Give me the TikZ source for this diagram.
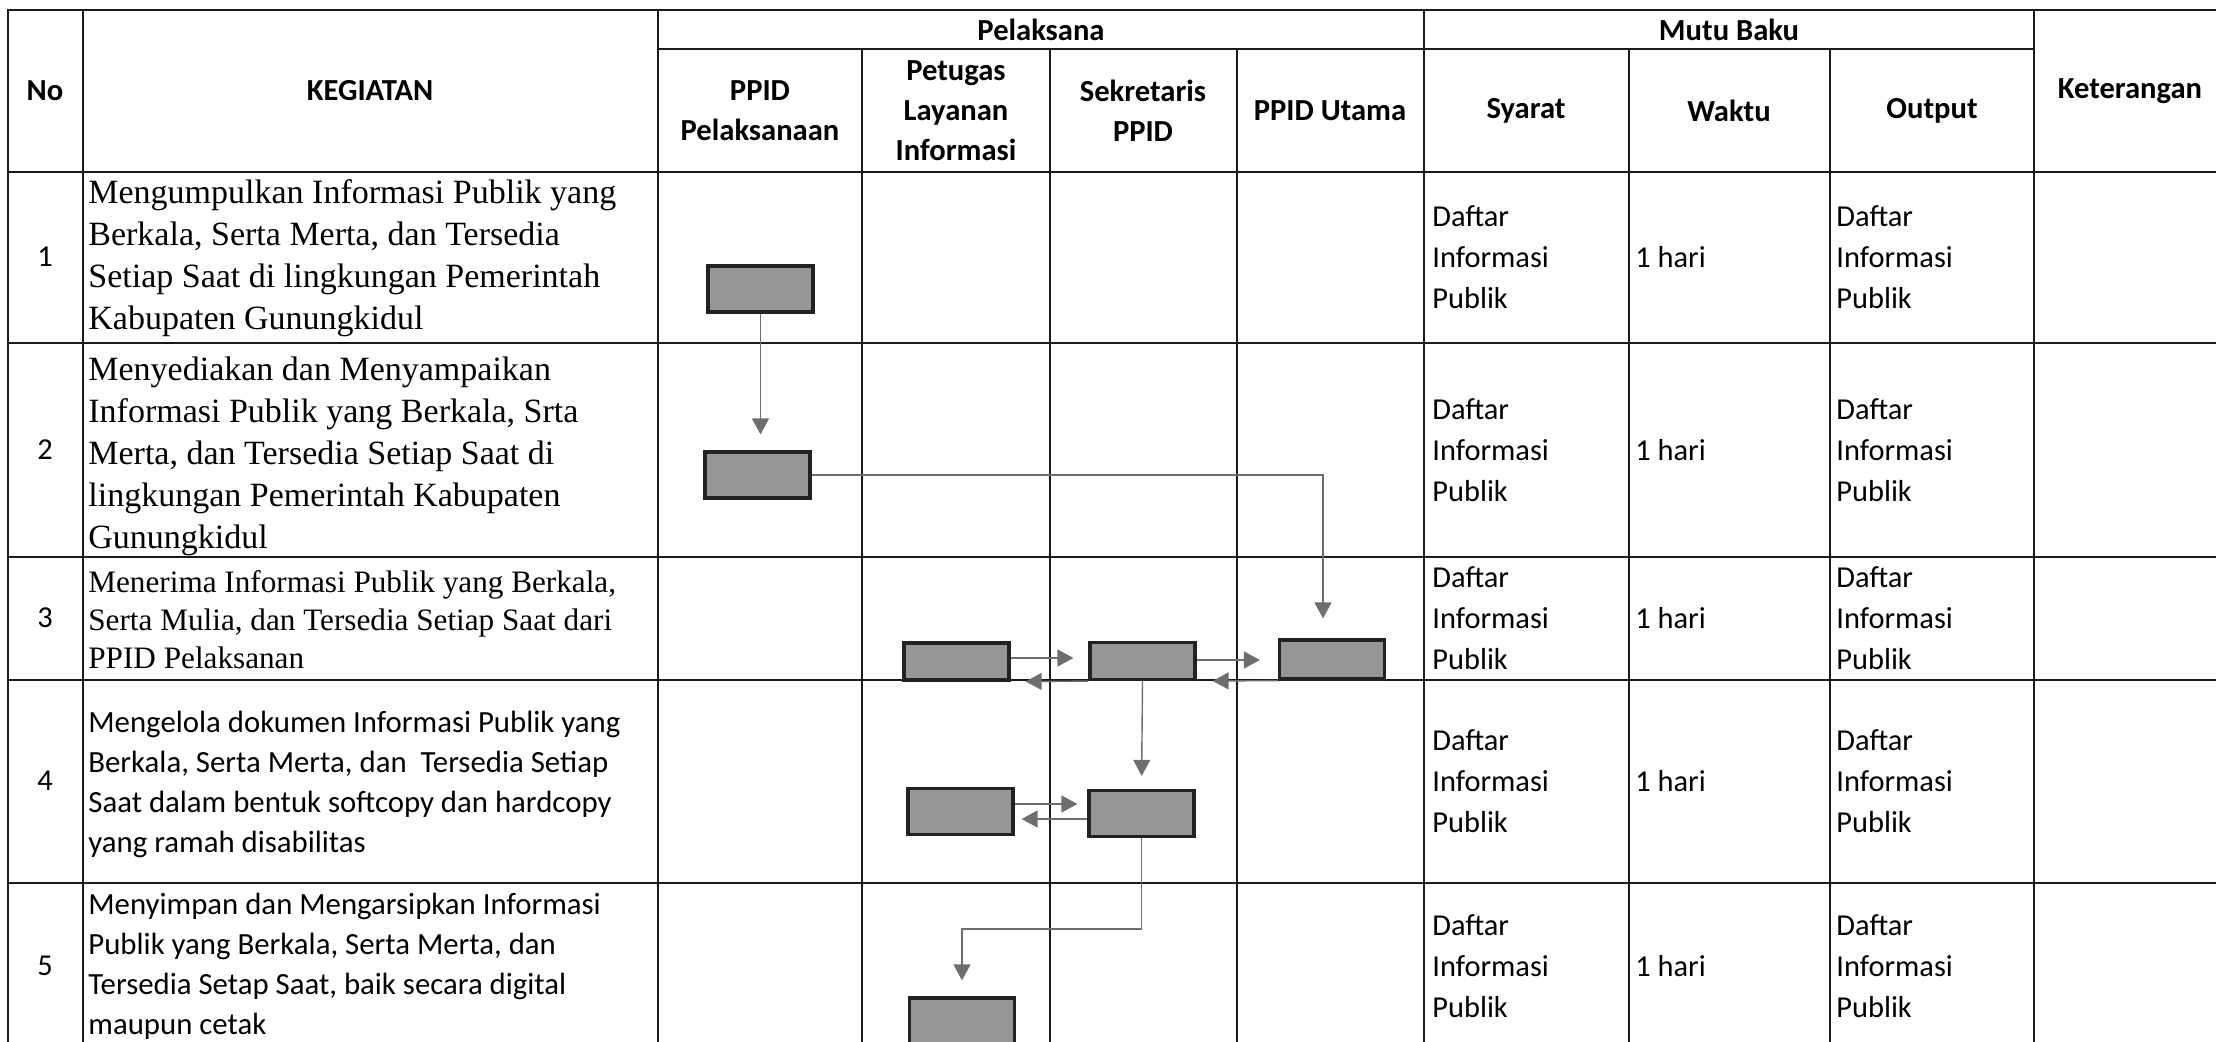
\documentclass[tikz,border=0pt]{standalone}
\usepackage{fontspec}
\setmainfont{Carlito}
\newfontfamily\timesfont{Liberation Serif}
\usetikzlibrary{arrows.meta}
\definecolor{gridline}{HTML}{1A1A1A}
\definecolor{boxfill}{HTML}{969696}
\definecolor{boxline}{HTML}{222222}
\definecolor{flowline}{HTML}{6E6E6E}

\begin{document}
\begin{tikzpicture}[x=0.5pt,y=-0.5pt,
    grid/.style={draw=gridline, line width=1.3pt},
    hdr/.style={font=\bfseries\fontsize{15.3}{20}\selectfont, align=center, inner sep=0},
    cell/.style={font=\fontsize{15.2}{20.5}\selectfont, align=left, anchor=west, inner sep=0},
    keg/.style={font=\timesfont\fontsize{17}{21}\selectfont, align=left, anchor=west, inner sep=0},
    procbox/.style={draw=boxline, fill=boxfill, line width=1.6pt, minimum width=52.5pt, minimum height=23pt, inner sep=0},
    flow/.style={draw=flowline, line width=0.7pt, -{Triangle[length=8pt,width=8.5pt]}, shorten >=8pt}]
    \useasboundingbox (0,0) rectangle (2216,1042);
    % tabel
    \draw[grid] (2216,10) -- (8,10) -- (8,1060);
    \foreach \y in {172,343,557,680,883} \draw[grid] (8,\y) -- (2216,\y);
    \draw[grid] (658,49) -- (2034,49);
    \foreach \x in {83,658,1424,2034} \draw[grid] (\x,10) -- (\x,1060);
    \foreach \x in {862,1050,1237,1629,1830} \draw[grid] (\x,49) -- (\x,1060);
    % kepala tabel
    \node[hdr] (hno) at (45,91) {No};
    \node[hdr] (hkeg) at (370,91) {KEGIATAN};
    \node[hdr] (hpel) at (1041,30) {Pelaksana};
    \node[hdr] (hmutu) at (1729,30) {Mutu Baku};
    \node[hdr] (hket) at (2130,91) {Keterangan};
    \foreach \x/\lab [count=\i] in {760/{PPID\\Pelaksanaan},956/{Petugas\\Layanan\\Informasi},1143/{Sekretaris\\PPID},1330/{PPID Utama},1526/Syarat,1729/Waktu,1932/Output}
        \node[hdr] (sub\i) at (\x,111) {\lab};
    % isi baris
    \foreach \y [count=\i] in {257,450,618,781,966} {
        \node[cell,anchor=center] (no\i) at (45,\y) {\i};
        \node[cell] (syarat\i) at (1432,\y) {Daftar\\Informasi\\Publik};
        \node[cell] (waktu\i) at (1635,\y) {1 hari};
        \node[cell] (output\i) at (1836,\y) {Daftar\\Informasi\\Publik};
    }
    \node[keg] (keg1) at (88,258) {Mengumpulkan Informasi Publik yang\\Berkala, Serta Merta, dan Tersedia\\Setiap Saat di lingkungan Pemerintah\\Kabupaten Gunungkidul};
    \node[keg] (keg2) at (88,456) {Menyediakan dan Menyampaikan\\Informasi Publik yang Berkala, Srta\\Merta, dan Tersedia Setiap Saat di\\lingkungan Pemerintah Kabupaten\\Gunungkidul};
    \node[keg, font=\timesfont\fontsize{15.6}{19}\selectfont] (keg3) at (88,620) {Menerima Informasi Publik yang Berkala,\\Serta Mulia, dan Tersedia Setiap Saat dari\\PPID Pelaksanan};
    \node[cell, font=\fontsize{15.4}{20}\selectfont] (keg4) at (88,784) {Mengelola dokumen Informasi Publik yang\\Berkala, Serta Merta, dan\ \ Tersedia Setiap\\Saat dalam bentuk softcopy dan hardcopy\\yang ramah disabilitas};
    \node[cell, font=\fontsize{15.4}{20}\selectfont] (keg5) at (88,966) {Menyimpan dan Mengarsipkan Informasi\\Publik yang Berkala, Serta Merta, dan\\Tersedia Setap Saat, baik secara digital\\maupun cetak};
    % kotak proses
    \node[procbox] (boxA) at (760.5,289) {};
    \node[procbox] (boxB) at (757.5,475) {};
    \node[procbox, minimum height=18.5pt] (boxD) at (956.5,661.5) {};
    \node[procbox, minimum height=18.5pt] (boxE) at (1142.5,661) {};
    \node[procbox, minimum height=19.5pt] (boxC) at (1332,659.5) {};
    \node[procbox] (boxG) at (960.5,811.5) {};
    \node[procbox] (boxF) at (1141.5,813.5) {};
    \node[procbox] (boxH) at (962,1021) {};
    % alur
    \draw[flow] (boxA.south) -- (boxA.south |- boxB.north);
    \draw[flow, shorten >=10pt] (boxB.east) -| ([xshift=-4.5pt]boxC.north);
    \draw[flow, shorten >=7.5pt] ([yshift=1.75pt]boxD.east) -- ([yshift=1.75pt]boxD.east -| boxE.west);
    \draw[flow, shorten >=7.5pt] (boxE.south west) -- (boxD.south east);
    \draw[flow, shorten >=9pt] ([yshift=0.5pt]boxE.east) -- ([yshift=0.5pt]boxE.east -| boxC.west);
    \draw[flow] (boxC.south west) -- (boxE.south east);
    \draw[flow, shorten >=6.5pt] (boxE.south) -- (boxF.north);
    \draw[flow, shorten >=5pt] ([yshift=3.75pt]boxG.east) -- ([yshift=3.75pt]boxG.east -| boxF.west);
    \draw[flow, shorten >=3.5pt] ([yshift=-2.75pt]boxF.west) -- ([yshift=-2.75pt]boxF.west -| boxG.east);
    \draw[flow] (boxF.south) -- ++(0,91) -| (boxH.north);
\end{tikzpicture}
\end{document}
